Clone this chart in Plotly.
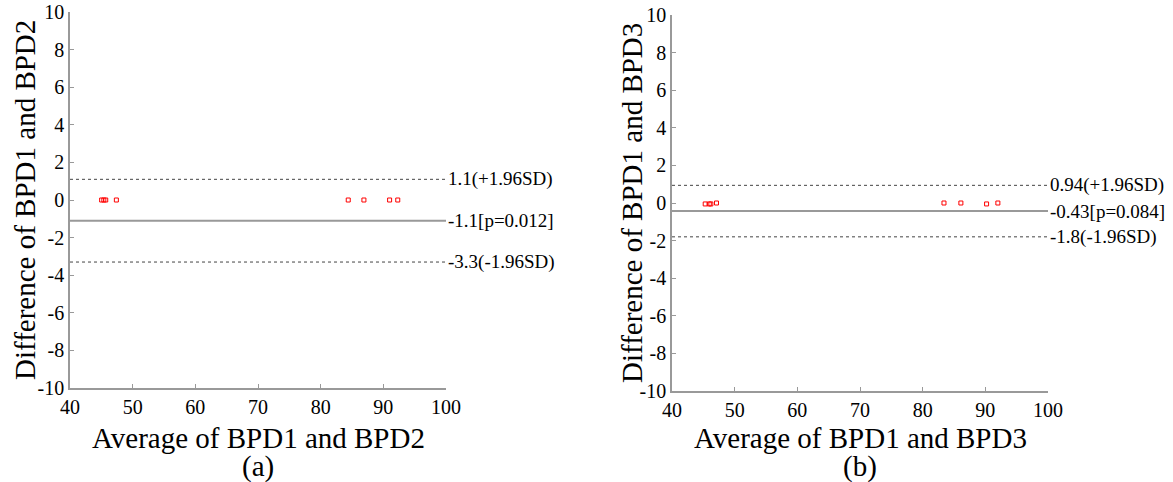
import plotly.graph_objects as go

# Panel (a): BPD1 vs BPD2
avg_a = [45.05, 45.4, 45.7, 47.4, 84.4, 86.9, 91.0, 92.3]
diff_a = [0.0, 0.0, 0.0, 0.0, 0.0, 0.0, 0.0, 0.0]
mean_a = -1.1
upper_a = 1.1
lower_a = -3.3
labels_a = ["1.1(+1.96SD)", "-1.1[p=0.012]", "-3.3(-1.96SD)"]

# Panel (b): BPD1 vs BPD3
avg_b = [45.3, 45.95, 46.2, 47.1, 83.4, 86.1, 90.2, 92.0]
diff_b = [-0.05, -0.05, -0.05, 0.0, 0.0, 0.0, -0.05, 0.0]
mean_b = -0.43
upper_b = 0.94
lower_b = -1.8
labels_b = ["0.94(+1.96SD)", "-0.43[p=0.084]", "-1.8(-1.96SD)"]

x_range = [40, 100]
y_range = [-10, 10]
x_ticks = [40, 50, 60, 70, 80, 90, 100]
y_ticks = [-10, -8, -6, -4, -2, 0, 2, 4, 6, 8, 10]
y_tick_labels = ["-10", "-8", "-6", "-4", "-2", "0", "2", "4", "6", "8", "10"]

FONT = "Liberation Serif, Times New Roman, serif"
W, H = 1173, 482

fig = go.Figure()

panels = [
    dict(xa="x", ya="y", avg=avg_a, diff=diff_a, mean=mean_a, up=upper_a, lo=lower_a,
         labels=labels_a, xtitle="Average of BPD1 and BPD2", ytitle="Difference of BPD1 and BPD2",
         tag="(a)", px=(70, 446), py=(12, 388), ytx=25),
    dict(xa="x2", ya="y2", avg=avg_b, diff=diff_b, mean=mean_b, up=upper_b, lo=lower_b,
         labels=labels_b, xtitle="Average of BPD1 and BPD3", ytitle="Difference of BPD1 and BPD3",
         tag="(b)", px=(672, 1048), py=(15, 391), ytx=632),
]


def fx(px):
    return px / W


def fy(py):
    return 1 - py / H


annotations = []
for i, p in enumerate(panels):
    for val, dash, col, w in [(p["up"], "dot", "#444444", 1), (p["mean"], "solid", "#999999", 2), (p["lo"], "dot", "#444444", 1)]:
        fig.add_trace(go.Scatter(x=x_range, y=[val, val], mode="lines", xaxis=p["xa"], yaxis=p["ya"],
                                 line=dict(color=col, width=w, dash=dash), showlegend=False, hoverinfo="skip"))
    fig.add_trace(go.Scatter(x=p["avg"], y=p["diff"], mode="markers", xaxis=p["xa"], yaxis=p["ya"],
                             marker=dict(symbol="square-open", size=4, color="red", line=dict(width=1)),
                             showlegend=False))
    for val, txt in zip([p["up"], p["mean"], p["lo"]], p["labels"]):
        annotations.append(dict(x=x_range[1], y=val, xref=p["xa"], yref=p["ya"], text=txt,
                                showarrow=False, xanchor="left", yanchor="middle", xshift=0,
                                font=dict(family=FONT, size=19, color="black")))
    cx = fx((p["px"][0] + p["px"][1]) / 2)
    annotations.append(dict(x=cx, y=fy(438), xref="paper", yref="paper", text=p["xtitle"],
                            showarrow=False, xanchor="center", yanchor="middle",
                            font=dict(family=FONT, size=29, color="black")))
    annotations.append(dict(x=cx, y=fy(466), xref="paper", yref="paper", text=p["tag"],
                            showarrow=False, xanchor="center", yanchor="middle",
                            font=dict(family=FONT, size=29, color="black")))
    cy = fy((p["py"][0] + p["py"][1]) / 2)
    annotations.append(dict(x=fx(p["ytx"]), y=cy, xref="paper", yref="paper", text=p["ytitle"],
                            showarrow=False, xanchor="center", yanchor="middle", textangle=-90,
                            font=dict(family=FONT, size=29, color="black")))

axis_common = dict(showgrid=False, zeroline=False, showline=True, linecolor="#999999", linewidth=1.5,
                   ticks="inside", ticklen=4, tickcolor="#999999", mirror=False, automargin=False,
                   ticklabeloverflow="allow",
                   tickfont=dict(family=FONT, size=20, color="black"))

layout = dict(width=W, height=H, margin=dict(l=0, r=0, t=0, b=0, autoexpand=False),
              paper_bgcolor="white", plot_bgcolor="white", annotations=annotations)
for i, p in enumerate(panels):
    sx = "" if i == 0 else "2"
    layout["xaxis" + sx] = dict(axis_common, range=x_range, tickvals=x_ticks,
                                domain=[fx(p["px"][0]), fx(p["px"][1])],
                                anchor="y" + sx)
    layout["yaxis" + sx] = dict(axis_common, range=y_range, tickvals=y_ticks, ticktext=y_tick_labels,
                                domain=[fy(p["py"][1]), fy(p["py"][0])],
                                anchor="x" + sx)
fig.update_layout(**layout)
fig.write_html("out.html", config={"displayModeBar": False},
               post_script="document.body.style.margin='0';")
